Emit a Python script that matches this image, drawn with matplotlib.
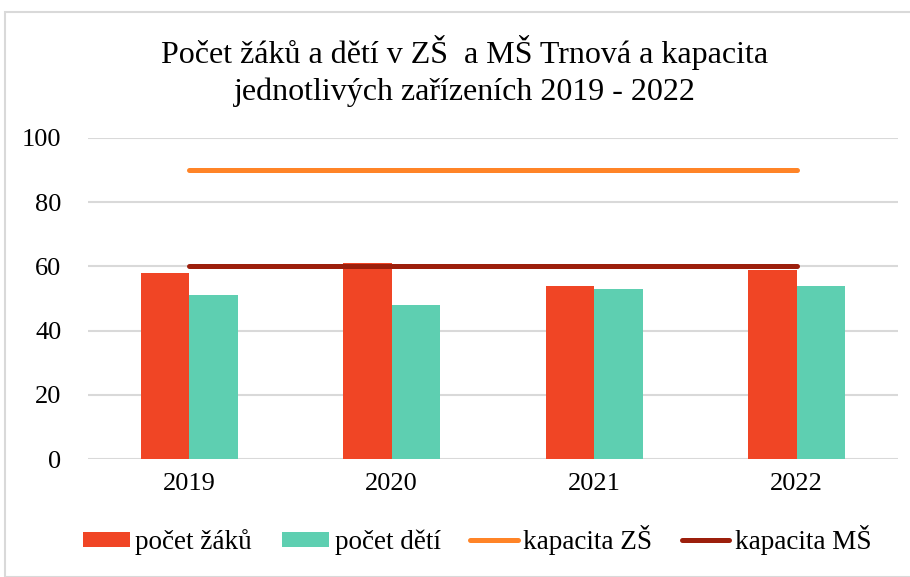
import matplotlib.pyplot as plt
import numpy as np
from matplotlib.patches import Rectangle

years = ['2019', '2020', '2021', '2022']
zaci = [58, 61, 54, 59]
deti = [51, 48, 53, 54]
kap_zs = [90, 90, 90, 90]
kap_ms = [60, 60, 60, 60]

plt.rcParams['font.family'] = ['Liberation Serif', 'DejaVu Serif']

fig = plt.figure(figsize=(9.1, 5.77), dpi=100)
fig.patches.append(Rectangle((5 / 910, 0), 1, 1 - 12 / 577, transform=fig.transFigure,
                             fill=False, edgecolor='#d9d9d9', linewidth=1.5))
ax = fig.add_axes([88 / 910, 1 - 459 / 577, 810 / 910, 321 / 577])

x = np.arange(len(years))
w = 0.24
b1 = ax.bar(x - w / 2, zaci, w, color='#f04525', label='počet žáků', zorder=2)
b2 = ax.bar(x + w / 2, deti, w, color='#5ecfb1', label='počet dětí', zorder=2)
l1, = ax.plot(x, kap_zs, color='#ff8427', lw=3.6, solid_capstyle='round', label='kapacita ZŠ', zorder=3)
l2, = ax.plot(x, kap_ms, color='#9c1f0c', lw=3.6, solid_capstyle='round', label='kapacita MŠ', zorder=3)

ax.set_xlim(-0.5, 3.5)
ax.set_ylim(0, 100)
ax.set_yticks(range(0, 101, 20))
ax.set_xticks(x)
ax.set_xticklabels(years)
ax.tick_params(axis='both', length=0, labelsize=19, colors='#000000')
ax.tick_params(axis='x', pad=10)
ax.tick_params(axis='y', pad=19)
ax.grid(axis='y', color='#d9d9d9', lw=1.5, zorder=0)
for s in ax.spines.values():
    s.set_visible(False)

fig.text(465 / 910, 1 - 71 / 577, 'Počet žáků a dětí v ZŠ  a MŠ Trnová a kapacita\njednotlivých zařízeních 2019 - 2022',
         ha='center', va='center', fontsize=23, linespacing=1.35)

fig.legend(handles=[b1, b2, l1, l2], loc='center', bbox_to_anchor=(477 / 910, 1 - 540 / 577), ncol=4,
           frameon=False, fontsize=19.5, handlelength=1.75, handleheight=0.5, handletextpad=0.2,
           columnspacing=1.1)

fig.savefig('out.png', dpi=100)
